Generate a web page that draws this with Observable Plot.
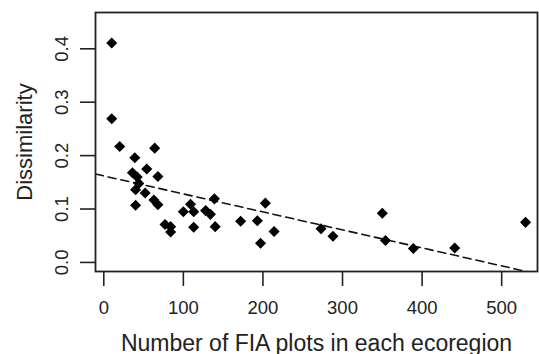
<!DOCTYPE html>
<html>
<head>
<meta charset="utf-8">
<script src="https://cdn.jsdelivr.net/npm/d3@7"></script>
<script src="https://cdn.jsdelivr.net/npm/@observablehq/plot@0.6"></script>
<style>
  html, body { margin: 0; padding: 0; background: #fff; }
</style>
</head>
<body>
<div id="chart"></div>
<script>
// Number of FIA plots per ecoregion (x) and dissimilarity (y)
const plotsCount = [10, 10, 20, 64, 39, 54, 36, 68, 42, 44, 40, 52, 63, 68, 40, 77, 84, 84,
  100, 109, 113, 113, 128, 134, 139, 140, 172, 193, 203, 197, 214, 273, 288, 350, 354, 389, 441, 530];
const dissimilarity = [0.411, 0.269, 0.217, 0.214, 0.196, 0.175, 0.168, 0.161, 0.160, 0.148, 0.136, 0.130, 0.117, 0.108, 0.107, 0.071, 0.067, 0.057,
  0.095, 0.109, 0.095, 0.066, 0.097, 0.090, 0.119, 0.067, 0.077, 0.078, 0.111, 0.036, 0.058, 0.063, 0.049, 0.092, 0.041, 0.026, 0.027, 0.075];

// Fitted linear trend (dashed)
const fitIntercept = [0.162];
const fitSlope = [-0.000337];

const xTicks = [0, 100, 200, 300, 400, 500];
const yTicks = [0.0, 0.1, 0.2, 0.3, 0.4];
const xDomain = [-10.4, 545];
const yDomain = [-0.017, 0.468];

const xTitle = "Number of FIA plots in each ecoregion";
const yTitle = "Dissimilarity";

const points = plotsCount.map((x, i) => ({x, y: dissimilarity[i]}));
const fitLine = xDomain.map(x => ({x, y: fitIntercept[0] + fitSlope[0] * x}));

const chart = Plot.plot({
  width: 539,
  height: 354,
  marginLeft: 95,
  marginRight: 2,
  marginTop: 12,
  marginBottom: 83,
  style: {fontFamily: "'Liberation Sans', Arial, Helvetica, sans-serif", background: "#fff", color: "#222"},
  x: {domain: xDomain},
  y: {domain: yDomain},
  marks: [
    Plot.line(fitLine, {x: "x", y: "y", stroke: "#111", strokeWidth: 1.6, strokeDasharray: "8,5", clip: true}),
    Plot.dot(points, {x: "x", y: "y", symbol: "diamond2", r: 5, fill: "#000", stroke: "none"}),
    Plot.frame({stroke: "#222", strokeWidth: 1.8}),
    Plot.axisX(xTicks, {tickSize: 15, tickPadding: 14, fontSize: 18.5, label: null, strokeWidth: 1.6, color: "#222"}),
    Plot.axisY(yTicks, {tickSize: 15, tickPadding: 13, tickRotate: -90, fontSize: 18.5, label: null, tickFormat: d3.format(".1f"), strokeWidth: 1.6, color: "#222"}),
    Plot.text([xTitle], {frameAnchor: "bottom", dy: 79, lineAnchor: "bottom", textAnchor: "middle", fontSize: 23, fill: "#222"}),
    Plot.text([yTitle], {frameAnchor: "left", dx: -64, rotate: -90, lineAnchor: "bottom", textAnchor: "middle", fontSize: 22, fill: "#222"})
  ]
});
document.getElementById("chart").appendChild(chart);
</script>
</body>
</html>
